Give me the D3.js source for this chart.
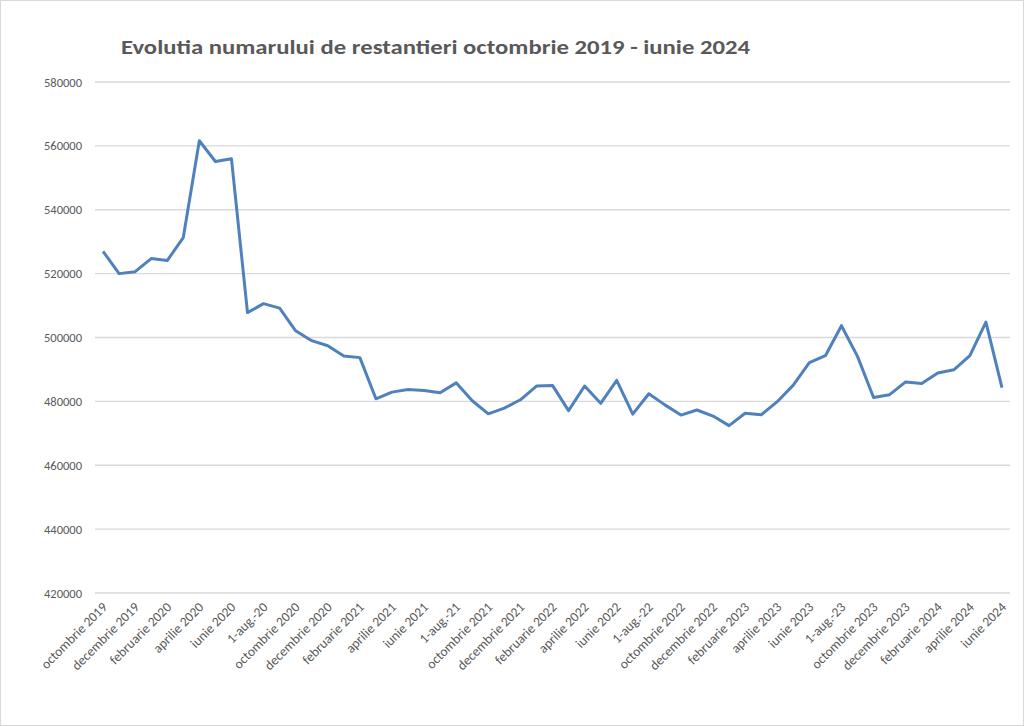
<!DOCTYPE html>
<html lang="ro">
<head>
  <meta charset="UTF-8">
  <title>Evolutia numarului de restantieri</title>
  <script src="https://cdn.jsdelivr.net/npm/d3@7/dist/d3.min.js"></script>
  <style>
    body { margin: 0; background: #fff; }
    text { font-family: Calibri, Carlito, "Open Sans", "Liberation Sans", sans-serif; }
  </style>
</head>
<body>
  <div id="box"></div>
  <script>
    const width = 1024
    const height = 726
    const margin = { left: 95, right: 14, top: 82, bottom: 133 }

    // luni (57 de puncte, octombrie 2019 - iunie 2024)
    const months = ['octombrie 2019', 'noiembrie 2019', 'decembrie 2019', 'ianuarie 2020', 'februarie 2020', 'martie 2020',
      'aprilie 2020', 'mai 2020', 'iunie 2020', 'iulie 2020', '1-aug.-20', 'septembrie 2020',
      'octombrie 2020', 'noiembrie 2020', 'decembrie 2020', 'ianuarie 2021', 'februarie 2021', 'martie 2021',
      'aprilie 2021', 'mai 2021', 'iunie 2021', 'iulie 2021', '1-aug.-21', 'septembrie 2021',
      'octombrie 2021', 'noiembrie 2021', 'decembrie 2021', 'ianuarie 2022', 'februarie 2022', 'martie 2022',
      'aprilie 2022', 'mai 2022', 'iunie 2022', 'iulie 2022', '1-aug.-22', 'septembrie 2022',
      'octombrie 2022', 'noiembrie 2022', 'decembrie 2022', 'ianuarie 2023', 'februarie 2023', 'martie 2023',
      'aprilie 2023', 'mai 2023', 'iunie 2023', 'iulie 2023', '1-aug.-23', 'septembrie 2023',
      'octombrie 2023', 'noiembrie 2023', 'decembrie 2023', 'ianuarie 2024', 'februarie 2024', 'martie 2024',
      'aprilie 2024', 'mai 2024', 'iunie 2024']

    // numar restantieri
    const values = [527000, 520000, 520600, 524700, 524100, 531300,
      561600, 555100, 556000, 507800, 510600, 509200,
      502100, 499000, 497400, 494200, 493700, 480800,
      482900, 483700, 483400, 482700, 485800, 480200,
      476100, 477900, 480500, 484800, 485000, 477100,
      484800, 479400, 486600, 476000, 482400, 478900,
      475700, 477300, 475400, 472400, 476300, 475800,
      479900, 485100, 492100, 494300, 503700, 494100,
      481200, 482100, 486100, 485600, 488900, 489900,
      494300, 504800, 484300]

    const yTicks = [420000, 440000, 460000, 480000, 500000, 520000, 540000, 560000, 580000]
    const title = 'Evolutia numarului de restantieri octombrie 2019 - iunie 2024'

    const svg = d3.select('#box').append('svg')
      .attr('width', width)
      .attr('height', height)

    svg.append('rect')
      .attr('x', 0.5).attr('y', 0.5)
      .attr('width', width - 1).attr('height', height - 1)
      .attr('fill', '#fff').attr('stroke', '#d9d9d9')

    const xScale = d3.scaleBand().domain(months).range([margin.left, width - margin.right])
    const yScale = d3.scaleLinear().domain([420000, 580000]).range([height - margin.bottom, margin.top])

    // grila orizontala
    svg.append('g')
      .selectAll('line')
      .data(yTicks)
      .join('line')
      .attr('x1', margin.left).attr('x2', width - margin.right)
      .attr('y1', d => yScale(d)).attr('y2', d => yScale(d))
      .attr('stroke', '#d9d9d9').attr('stroke-width', 1.3)

    // axa y
    const yAxis = d3.axisLeft(yScale).tickValues(yTicks).tickSize(0).tickPadding(13).tickFormat(d3.format('d'))
    svg.append('g')
      .attr('transform', `translate(${margin.left},0)`)
      .call(yAxis)
      .call(g => g.select('.domain').remove())
      .selectAll('text')
      .attr('font-size', 12.5)
      .attr('fill', '#595959')

    // axa x, etichete din doua in doua luni
    const xAxis = d3.axisBottom(xScale)
      .tickValues(months.filter((d, i) => i % 2 === 0))
      .tickSize(0)
    svg.append('g')
      .attr('transform', `translate(0,${height - margin.bottom})`)
      .call(xAxis)
      .call(g => g.select('.domain').remove())
      .selectAll('text')
      .attr('font-size', 13.5)
      .attr('fill', '#595959')
      .attr('text-anchor', 'end')
      .attr('dy', null)
      .attr('y', 0)
      .attr('transform', 'translate(5,15) rotate(-45)')

    // linia
    const line = d3.line()
      .x((d, i) => xScale(months[i]) + xScale.bandwidth() / 2)
      .y(d => yScale(d))

    svg.append('path')
      .datum(values)
      .attr('d', line)
      .attr('fill', 'none')
      .attr('stroke', '#4f81bd')
      .attr('stroke-width', 3)
      .attr('stroke-linejoin', 'round')

    // titlu
    svg.append('text')
      .attr('x', 121)
      .attr('y', 54)
      .attr('font-size', 20)
      .attr('font-weight', 'bold')
      .attr('fill', '#595959')
      .attr('textLength', 629)
      .attr('lengthAdjust', 'spacingAndGlyphs')
      .text(title)
  </script>
</body>
</html>
